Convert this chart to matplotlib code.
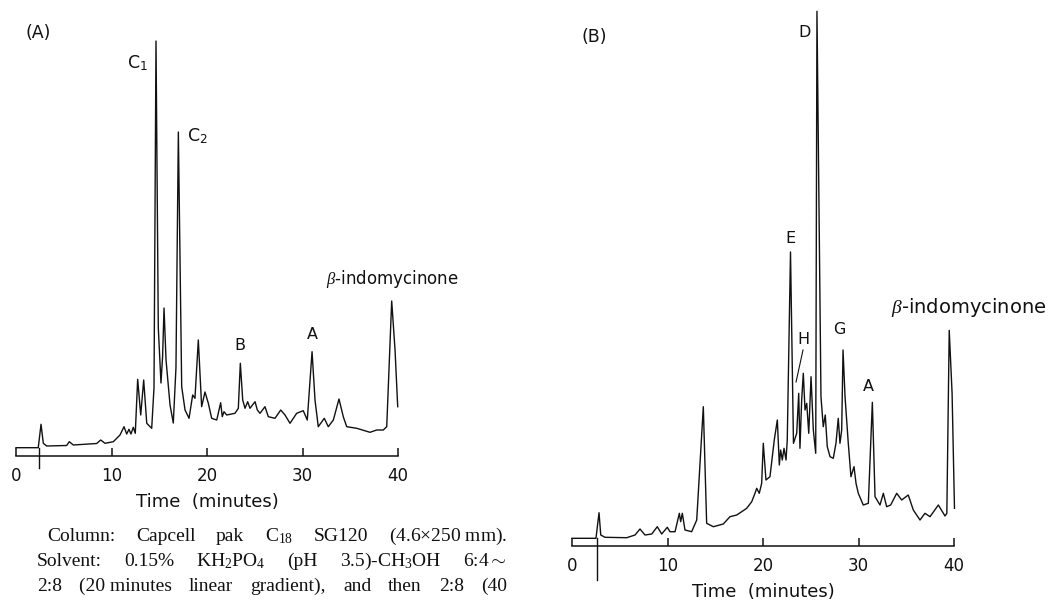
import matplotlib.pyplot as plt

plt.rcParams['font.family'] = ['DejaVu Sans']
plt.rcParams['mathtext.fontset'] = 'custom'
plt.rcParams['mathtext.rm'] = 'Liberation Serif'
plt.rcParams['mathtext.it'] = 'Liberation Serif:italic'
plt.rcParams['mathtext.sf'] = 'DejaVu Sans'

W, H = 1059, 601
INK = '#111111'

# chromatogram (A): retention time (min) / detector response (relative units)
time_a = [0.0, 2.33, 2.62, 2.86, 3.21, 5.31, 5.58, 6.0, 8.45, 8.87, 9.32, 10.19,
          10.89, 11.31, 11.59, 11.83, 12.04, 12.28, 12.49, 12.74, 13.06, 13.37,
          13.69, 14.21, 14.45, 14.66, 14.9, 15.18, 15.35, 15.5, 15.71, 16.13,
          16.47, 16.75, 17.0, 17.35, 17.7, 18.12, 18.5, 18.74, 19.09, 19.44,
          19.79, 20.14, 20.49, 21.02, 21.43, 21.6, 21.78, 22.06, 22.93, 23.28,
          23.49, 23.74, 23.98, 24.26, 24.5, 25.03, 25.27, 25.55, 26.07, 26.42,
          27.12, 27.72, 28.17, 28.69, 29.39, 30.08, 30.5, 31.0, 31.31, 31.65,
          32.28, 32.7, 33.23, 33.82, 34.27, 34.63, 35.68, 37.07, 37.77, 38.46,
          38.82, 39.34, 39.69, 39.97]
resp_a = [0.0, 0.0, 23.4, 4.4, 1.7, 2.2, 6.0, 2.7, 4.2, 7.7, 4.4, 6.0,
          12.7, 21.0, 13.7, 18.4, 13.7, 20.4, 14.4, 68.4, 32.7, 67.7,
          24.4, 19.4, 60.0, 406.7, 120.0, 64.7, 91.0, 139.7, 87.7, 42.7,
          24.7, 80.0, 315.7, 61.0, 37.7, 29.4, 52.7, 49.4, 107.7, 41.0,
          55.7, 44.4, 29.4, 27.7, 45.0, 31.0, 36.0, 32.7, 34.4, 39.4,
          84.4, 47.7, 39.4, 46.0, 39.4, 46.0, 37.7, 34.4, 41.0, 31.0,
          29.4, 37.7, 32.7, 24.4, 34.4, 37.0, 27.7, 96.0, 47.7, 21.0,
          29.4, 21.0, 27.7, 48.7, 31.0, 21.0, 19.4, 15.4, 17.7, 17.7,
          21.0, 146.7, 97.7, 41.0]

# chromatogram (B)
time_b = [0.0, 2.51, 2.83, 3.01, 3.46, 5.73, 6.6, 7.12, 7.64, 8.35, 8.93, 9.39,
          9.98, 10.26, 10.79, 11.24, 11.38, 11.55, 11.83, 12.53, 13.06, 13.75,
          14.1, 14.8, 15.84, 16.54, 17.25, 17.77, 18.29, 18.82, 19.16, 19.34,
          19.61, 19.86, 20.03, 20.31, 20.73, 21.18, 21.5, 21.71, 21.85, 22.02,
          22.2, 22.41, 22.54, 22.88, 23.19, 23.53, 23.74, 23.87, 24.05, 24.22,
          24.4, 24.58, 24.79, 25.03, 25.27, 25.52, 25.65, 26.07, 26.31, 26.52,
          26.73, 27.02, 27.36, 27.64, 27.88, 28.06, 28.24, 28.38, 28.59, 28.93,
          29.21, 29.53, 29.74, 29.98, 30.5, 31.03, 31.45, 31.73, 32.25, 32.6,
          32.95, 33.37, 34.0, 34.52, 35.21, 35.74, 36.44, 36.96, 37.49, 38.36,
          39.06, 39.25, 39.5, 39.8, 40.05]
resp_b = [0.0, 0.0, 25.6, 3.3, 1.0, 0.6, 3.3, 9.3, 3.3, 4.3, 11.6, 4.3,
          11.0, 6.6, 6.6, 25.0, 16.6, 25.0, 8.3, 6.6, 18.3, 131.6,
          15.0, 11.6, 14.3, 21.6, 23.3, 26.6, 30.0, 36.6, 45.0, 50.0,
          45.0, 55.0, 95.0, 58.3, 61.6, 98.3, 118.3, 73.3, 88.3, 78.3,
          90.0, 78.3, 98.3, 286.3, 95.0, 105.0, 145.0, 90.0, 138.3, 165.0,
          128.3, 135.0, 105.0, 161.6, 108.3, 85.0, 527.0, 141.6, 111.6, 123.3,
          91.6, 81.6, 80.0, 95.0, 120.0, 95.0, 108.3, 188.3, 141.6, 95.0,
          61.6, 71.6, 55.0, 45.0, 33.3, 35.0, 136.0, 41.6, 33.3, 45.0,
          31.6, 33.3, 45.0, 38.3, 43.3, 28.3, 18.3, 25.0, 21.6, 33.3,
          22.3, 25.0, 208.0, 145.0, 30.0]

inject_a = 2.41
inject_b = 2.59
time_ticks = [0, 10, 20, 30, 40]

labels_a = ['C$_\\mathsf{1}$', 'C$_\\mathsf{2}$', 'B', 'A']
labels_b = ['D', 'E', 'H', 'G', 'A']

fig = plt.figure(figsize=(W / 100, H / 100), dpi=100)


def chrom_axes(left_px, right_px, zero_px, base_px, px_per_min, axis_off, drop):
    ax = fig.add_axes([left_px / W, 0, (right_px - left_px) / W, 1])
    ax.set_xlim((left_px - zero_px) / px_per_min, (right_px - zero_px) / px_per_min)
    ax.set_ylim(base_px - H, base_px)
    ax.patch.set_visible(False)
    for s in ['left', 'right', 'top']:
        ax.spines[s].set_visible(False)
    sp = ax.spines['bottom']
    sp.set_position(('data', -axis_off))
    sp.set_bounds(0, 40)
    sp.set_color(INK)
    sp.set_linewidth(1.1)
    ax.set_yticks([])
    ax.set_xticks(time_ticks)
    ax.tick_params(axis='x', direction='in', length=6, width=1.1, pad=8,
                   labelsize=12, colors=INK)
    ax.text(20, -axis_off - drop, 'Time  (minutes)', ha='center', va='center',
            fontsize=13, color=INK)
    return ax


# ---- panel A
ax = chrom_axes(0, 530, 16, 447.7, 9.55, 8.3, 46)
ax.plot(time_a, resp_a, color=INK, lw=1.0)
ax.plot([inject_a, inject_a], [0, -20.3], color=INK, lw=1.0)
ax.text(2.3, 414.7, '(A)', ha='center', va='center', fontsize=12.5, color=INK)
ax.text(13.8, 384.7, labels_a[0], ha='right', va='center', fontsize=12.5, color=INK)
ax.text(17.9, 311.7, labels_a[1], ha='left', va='center', fontsize=12.5, color=INK)
ax.text(23.45, 102, labels_a[2], ha='center', va='center', fontsize=11.5, color=INK)
ax.text(31.0, 113.4, labels_a[3], ha='center', va='center', fontsize=11.5, color=INK)
ax.text(32.5, 168.7, '$\\beta$-indomycinone', ha='left', va='center',
        fontsize=12, color=INK)

# ---- panel B
bx = chrom_axes(540, 1059, 572, 538.3, 9.55, 7.4, 46)
bx.plot(time_b, resp_b, color=INK, lw=1.0)
bx.plot([inject_b, inject_b], [0, -41.7], color=INK, lw=1.0)
bx.text(2.3, 501.6, '(B)', ha='center', va='center', fontsize=12.5, color=INK)
bx.text(24.4, 505.6, labels_b[0], ha='center', va='center', fontsize=11.5, color=INK)
bx.text(22.83, 300, labels_b[1], ha='center', va='center', fontsize=11.5, color=INK)
bx.text(24.19, 199, labels_b[2], ha='center', va='center', fontsize=11.5, color=INK)
bx.plot([24.19, 23.46], [188.3, 156.3], color=INK, lw=0.8)
bx.text(28.01, 208.3, labels_b[3], ha='center', va='center', fontsize=11.5, color=INK)
bx.text(31.05, 151.6, labels_b[4], ha='center', va='center', fontsize=11.5, color=INK)
bx.text(33.4, 230.8, '$\\beta$-indomycinone', ha='left', va='center',
        fontsize=14, color=INK)

# ---- caption below panel A (justified lines)
caption = [
    (47, 541, ['Column:', 'Capcell', 'pak', 'C$_{18}$', 'SG120', '(4.6$\\times$250 mm).']),
    (37, 566, ['Solvent:', '0.15%', 'KH$_2$PO$_4$', '(pH', '3.5)-CH$_3$OH', '6:4$\\sim$']),
    (37, 591, ['2:8', '(20 minutes', 'linear', 'gradient),', 'and', 'then', '2:8', '(40']),
]
renderer = fig.canvas.get_renderer()
for x0, ybase, words in caption:
    objs = [fig.text(0, 1 - ybase / H, w, ha='left', va='baseline', fontsize=14,
                     family='Liberation Serif', color=INK) for w in words]
    widths = [o.get_window_extent(renderer).width for o in objs]
    gap = (507 - x0 - sum(widths)) / (len(objs) - 1)
    x = x0
    for o, w in zip(objs, widths):
        o.set_x(x / W)
        x += w + gap

fig.savefig('out.png', dpi=100)
